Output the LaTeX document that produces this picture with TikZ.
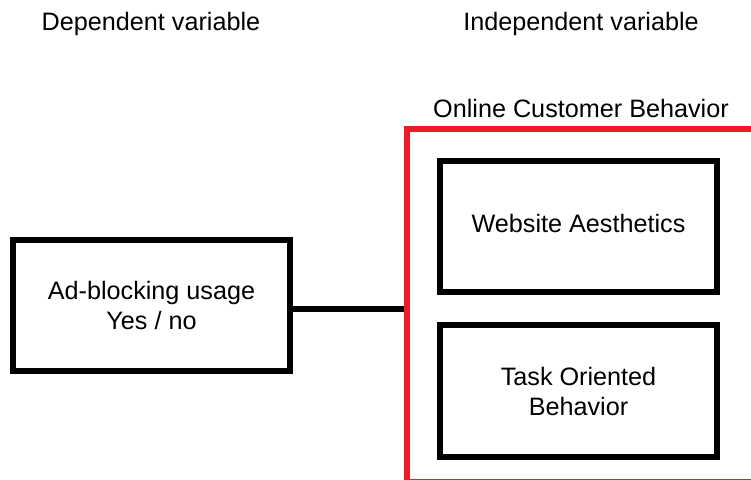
\documentclass[tikz,border=0pt]{standalone}
\usepackage{fontspec}
\setmainfont{Liberation Sans}
\begin{document}
\begin{tikzpicture}[x=1pt,y=1pt,
  every node/.style={font=\fontsize{25.2}{30}\selectfont, inner sep=0pt},
  blackbox/.style={draw=black, line width=6pt, minimum width=277pt, minimum height=131pt, align=center},
  redframe/.style={draw={rgb,255:red,237;green,28;blue,36}, line width=6pt, minimum width=351pt, minimum height=353pt},
  label/.style={anchor=base}
]
\useasboundingbox (0,0) rectangle (751,479);
\clip (0,0) rectangle (751,479);
% red frame (extends beyond right and bottom edge)
\node[redframe] (red) at (582.5,173.5) {};
% boxes
\node[blackbox] (lbox) at (151.5,173.5) {Ad-blocking usage\\Yes / no};
\node[blackbox] (wbox) at (578.5,252) {};
\node (wtext) at (578.5,255.5) {Website Aesthetics};
\node[blackbox] (tbox) at (578.5,88) {Task Oriented\\Behavior};
% labels
\node[label] (dep) at (151,448) {Dependent variable};
\node[label] (indep) at (581,448) {Independent variable};
\node[label] (ocb) at (581,361) {Online Customer Behavior};
% connector
\coordinate (cstart) at ([yshift=-3.5pt]lbox.east);
\draw[line width=6pt] (cstart) -- (cstart -| red.west);
\end{tikzpicture}
\end{document}
